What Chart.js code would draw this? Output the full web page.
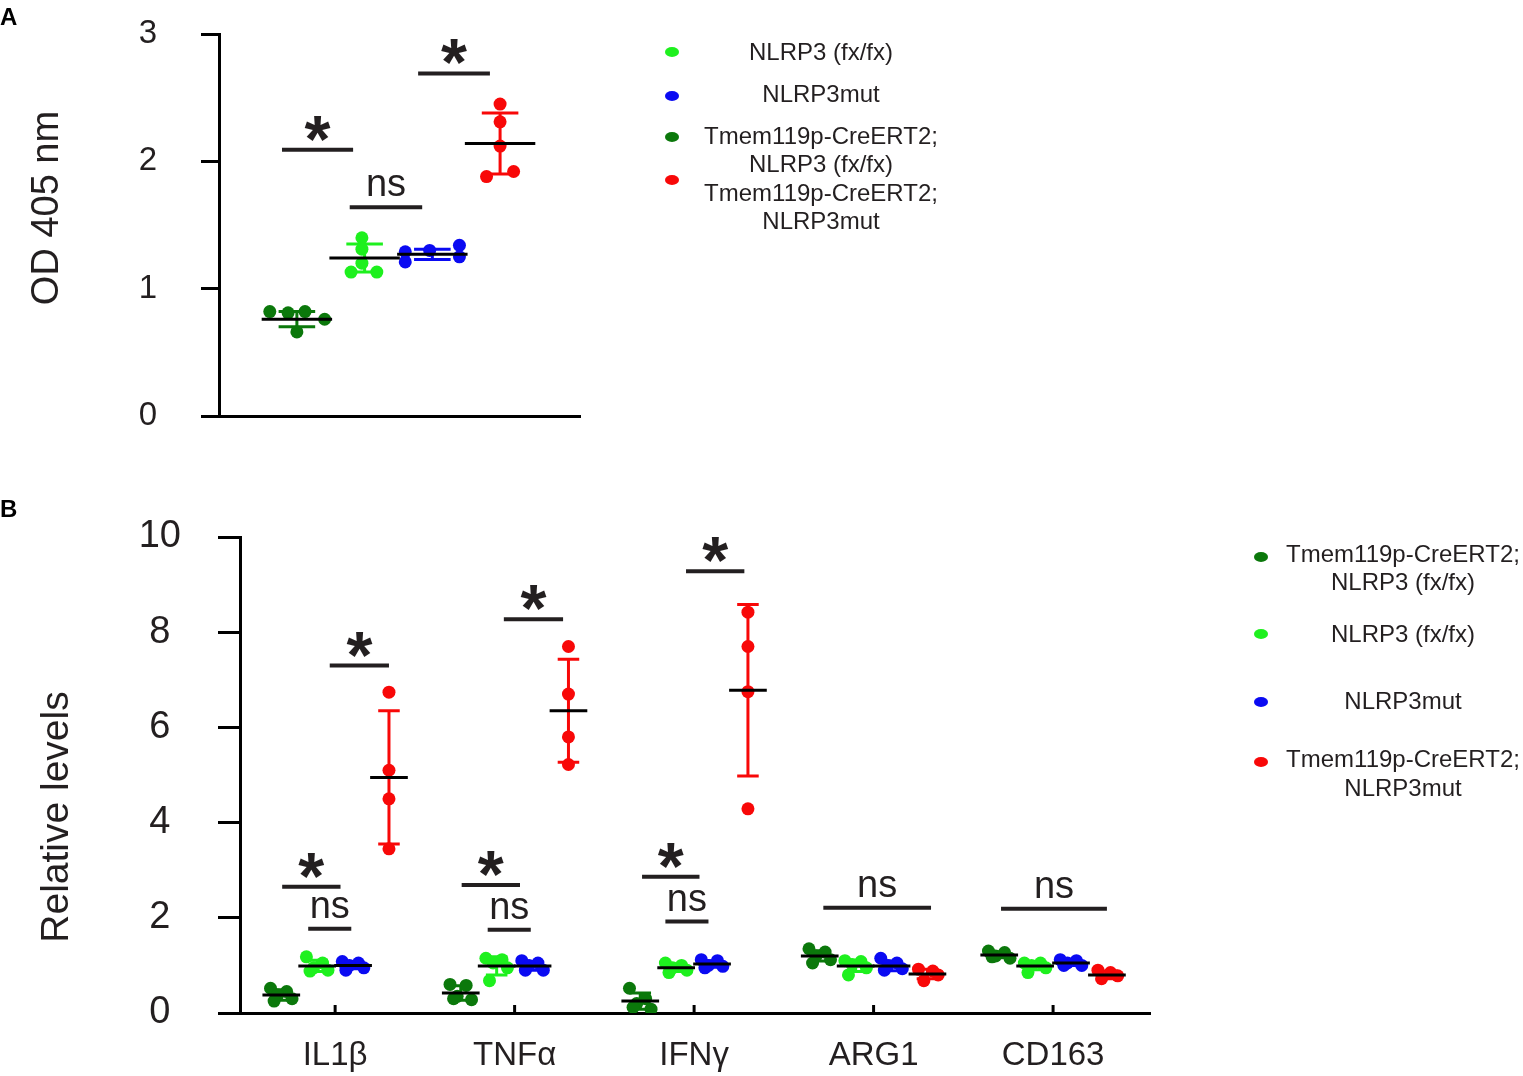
<!DOCTYPE html>
<html><head><meta charset="utf-8">
<script src="https://cdn.jsdelivr.net/npm/chart.js@4.4.0/dist/chart.umd.min.js"></script>
<style>
html,body{margin:0;padding:0;background:#fff;}
#wrap{position:relative;width:1523px;height:1076px;overflow:hidden;}
canvas{position:absolute;left:0;}
#ca{top:0;width:1523px;height:480px;}
#cb{top:480px;width:1523px;height:596px;}
</style></head><body>
<div id="wrap"><canvas id="ca" width="1523" height="480"></canvas><canvas id="cb" width="1523" height="596"></canvas></div>
<script>
// ================= DATA =================
// Panel A (OD 405 nm), group order on x: DG, LG, BL, RD
const a_dg = [0.82, 0.81, 0.82, 0.76, 0.66];
const a_lg = [1.40, 1.31, 1.20, 1.13, 1.13];
const a_bl = [1.29, 1.21, 1.30, 1.34, 1.25];
const a_rd = [2.45, 2.31, 2.12, 1.88, 1.92];
const a_mean = [0.76, 1.24, 1.27, 2.14];
const a_err = [0.06, 0.11, 0.04, 0.24];
const a_yTicks = [0, 1, 2, 3];
const a_sigText = ['*', 'ns', '*'];
const a_sigY = [2.09, 1.64, 2.69];

// Panel B (Relative levels)
const categoriesB = ['IL1β', 'TNFα', 'IFNγ', 'ARG1', 'CD163'];
const b_dg = [[0.52,0.45,0.38,0.30,0.25],[0.60,0.58,0.35,0.28,0.30],[0.52,0.30,0.20,0.08,0.12],[1.35,1.28,1.20,1.12,1.05],[1.30,1.27,1.20,1.15,1.18]];
const b_lg = [[1.18,1.05,0.95,0.90,0.88],[1.15,1.12,1.05,0.95,0.68],[1.05,1.00,0.95,0.90,0.85],[1.10,1.08,1.02,0.95,0.80],[1.05,1.05,1.00,0.95,0.85]];
const b_bl = [[1.08,1.05,1.00,0.95,0.90],[1.10,1.05,1.00,0.90,0.90],[1.12,1.10,1.00,0.98,0.95],[1.15,1.05,1.00,0.93,0.90],[1.12,1.10,1.05,1.00,1.00]];
const b_rd = [[6.74,5.10,4.50,3.45],[7.70,6.70,5.80,5.22],[8.42,7.70,6.75,4.29],[0.92,0.88,0.80,0.68],[0.90,0.85,0.78,0.72]];
const b_dgMean = [0.38, 0.42, 0.25, 1.20, 1.22];
const b_lgMean = [0.99, 0.99, 0.95, 0.99, 0.99];
const b_blMean = [1.00, 0.99, 1.03, 0.99, 1.05];
const b_rdMean = [4.95, 6.35, 6.78, 0.82, 0.80];
const b_dgErr = [0.11, 0.15, 0.17, 0.11, 0.06];
const b_lgErr = [0.12, 0.19, 0.08, 0.12, 0.08];
const b_blErr = [0.07, 0.09, 0.07, 0.10, 0.05];
const b_rdErr = [1.40, 1.08, 1.80, 0.10, 0.08];
const b_yTicks = [0, 2, 4, 6, 8, 10];
const b_sigCat = [0, 0, 0, 1, 1, 1, 2, 2, 2, 3, 4];
const b_sigText = ['*', 'ns', '*', '*', 'ns', '*', '*', 'ns', '*', 'ns', 'ns'];
const b_sigY = [2.65, 1.77, 7.30, 2.69, 1.75, 8.27, 2.86, 1.92, 9.28, 2.21, 2.19];

// Legend labels
const nameLG = ['NLRP3 (fx/fx)'];
const nameBL = ['NLRP3mut'];
const nameDG = ['Tmem119p-CreERT2;', 'NLRP3 (fx/fx)'];
const nameRD = ['Tmem119p-CreERT2;', 'NLRP3mut'];
const titleA = 'OD 405 nm';
const titleB = 'Relative levels';

// ================= STYLE / LAYOUT =================
const FONT = '"Liberation Sans", Arial, Helvetica, sans-serif';
const TXT = '#231f20';
const C_DG = '#0b780b', C_LG = '#1ef01e', C_BL = '#0a0af2', C_RD = '#f80808';

const a_jit = [[-0.40,-0.13,0.12,0.41,0.0],[-0.04,-0.04,-0.04,-0.20,0.18],[-0.40,-0.40,-0.04,0.40,0.40],[0,0,0,-0.20,0.20]];
const a_sigSpan = [[-0.22,0.83],[0.78,1.85],[1.79,2.85]];
const b_gOff = [-0.30, -0.10, 0.10, 0.30];
const b_jit5 = [-0.06, 0.03, -0.02, 0.06, -0.04];
const b_jitRed = [[0,0,0,0],[0,0,0,0],[0,0,0,0],[-0.05,0.03,0.06,-0.02],[-0.05,0.02,0.06,-0.03]];
const b_sigSpan = [[-0.295,0.03],[-0.15,0.09],[-0.03,0.30],[-0.295,0.03],[-0.15,0.09],[-0.06,0.27],[-0.29,0.03],[-0.16,0.08],[-0.045,0.28],[-0.28,0.32],[-0.29,0.30]];

// ================= HELPERS =================
function drawSig(ctx, X, Y, list) {
  list.forEach(s => {
    const x1 = X(s.x1), x2 = X(s.x2), y = Y(s.y);
    ctx.strokeStyle = TXT; ctx.lineWidth = 4;
    ctx.beginPath(); ctx.moveTo(x1, y); ctx.lineTo(x2, y); ctx.stroke();
    const cx = (x1 + x2) / 2;
    ctx.fillStyle = TXT; ctx.textAlign = 'center'; ctx.textBaseline = 'alphabetic';
    if (s.text === '*') {
      ctx.font = 'bold 100px ' + FONT;
      let m = ctx.measureText('*');
      const w = m.actualBoundingBoxLeft + m.actualBoundingBoxRight;
      const size = 100 * 26 / w;
      ctx.font = 'bold ' + size.toFixed(1) + 'px ' + FONT;
      m = ctx.measureText('*');
      ctx.fillText('*', cx, y - 9 - m.actualBoundingBoxDescent);
    } else {
      ctx.font = '38px ' + FONT;
      ctx.fillText(s.text, cx, y - 11);
    }
  });
}
function drawBars(ctx, X, Y, bars, capHalf) {
  bars.forEach(b => {
    ctx.strokeStyle = b.color; ctx.lineWidth = 3;
    ctx.beginPath();
    ctx.moveTo(X(b.x), Y(b.mean - b.err)); ctx.lineTo(X(b.x), Y(b.mean + b.err));
    [b.mean - b.err, b.mean + b.err].forEach(v => { ctx.moveTo(X(b.x - capHalf), Y(v)); ctx.lineTo(X(b.x + capHalf), Y(v)); });
    ctx.stroke();
  });
}
function drawMeans(ctx, X, Y, bars, half) {
  ctx.strokeStyle = '#000'; ctx.lineWidth = 3;
  bars.forEach(b => { ctx.beginPath(); ctx.moveTo(X(b.x - half), Y(b.mean)); ctx.lineTo(X(b.x + half), Y(b.mean)); ctx.stroke(); });
}
function drawLegend(ctx, items, mx, tx) {
  items.forEach(it => {
    ctx.fillStyle = it.color;
    ctx.beginPath(); ctx.ellipse(mx, it.my, 7, 5, 0, 0, Math.PI * 2); ctx.fill();
    ctx.fillStyle = TXT; ctx.font = '24px ' + FONT; ctx.textAlign = 'center'; ctx.textBaseline = 'middle';
    it.lines.forEach((t, i) => ctx.fillText(t, tx, it.ty[i]));
  });
}
function drawVTitle(ctx, text, cx, cy, size) {
  ctx.save(); ctx.translate(cx, cy); ctx.rotate(-Math.PI / 2);
  ctx.fillStyle = TXT; ctx.font = size + 'px ' + FONT; ctx.textAlign = 'center'; ctx.textBaseline = 'middle';
  ctx.fillText(text, 0, 0); ctx.restore();
}
function yAxisOpts(min, max, ticks, tickLen, pad, fontSize, width, cross) {
  return {
    type: 'linear', min: min, max: max,
    afterBuildTicks: s => { s.ticks = ticks.map(v => ({ value: v })); },
    afterFit: s => { s.width = width; s.paddingTop = 0; s.paddingBottom = 0; },
    grid: { display: true, drawOnChartArea: false, drawTicks: true, tickLength: tickLen, color: '#000', lineWidth: 3 },
    border: { display: true, color: '#000', width: 3 },
    ticks: { color: TXT, font: { family: FONT, size: fontSize }, padding: pad, crossAlign: cross, callback: v => String(v) }
  };
}

// ================= PANEL A =================
const aBars = a_mean.map((m, i) => ({ x: i, mean: m, err: a_err[i], color: [C_DG, C_LG, C_BL, C_RD][i] }));
const aSig = a_sigText.map((t, i) => ({ text: t, y: a_sigY[i], x1: a_sigSpan[i][0], x2: a_sigSpan[i][1] }));
const aSets = [a_dg, a_lg, a_bl, a_rd].map((vals, g) => ({
  data: vals.map((v, k) => ({ x: g + a_jit[g][k], y: v })),
  backgroundColor: [C_DG, C_LG, C_BL, C_RD][g], borderWidth: 0, pointRadius: 6.5, pointHoverRadius: 6.5
}));
const decoA = {
  id: 'decoA',
  beforeDatasetsDraw(chart) {
    const ctx = chart.ctx, X = v => chart.scales.x.getPixelForValue(v), Y = v => chart.scales.y.getPixelForValue(v);
    ctx.save(); drawBars(ctx, X, Y, aBars, 0.27); ctx.restore();
  },
  afterDatasetsDraw(chart) {
    const ctx = chart.ctx, X = v => chart.scales.x.getPixelForValue(v), Y = v => chart.scales.y.getPixelForValue(v);
    ctx.save(); drawMeans(ctx, X, Y, aBars, 0.52); drawSig(ctx, X, Y, aSig); ctx.restore();
  },
  afterDraw(chart) {
    const ctx = chart.ctx; ctx.save();
    drawLegend(ctx, [
      { color: C_LG, my: 52, lines: nameLG, ty: [53] },
      { color: C_BL, my: 96, lines: nameBL, ty: [95] },
      { color: C_DG, my: 137, lines: nameDG, ty: [137, 165] },
      { color: C_RD, my: 180, lines: nameRD, ty: [194, 222] }
    ], 672, 821);
    drawVTitle(ctx, titleA, 48, 208, 38);
    ctx.fillStyle = '#000'; ctx.font = 'bold 24px ' + FONT; ctx.textAlign = 'left'; ctx.textBaseline = 'alphabetic';
    ctx.fillText('A', 0, 25);
    ctx.restore();
  }
};
new Chart(document.getElementById('ca'), {
  type: 'scatter',
  data: { datasets: aSets },
  options: {
    responsive: false, animation: false, devicePixelRatio: 1,
    layout: { padding: { top: 34, right: 943, bottom: 0, left: 0 } },
    plugins: { legend: { display: false }, tooltip: { enabled: false } },
    scales: {
      x: { type: 'linear', min: -1.15, max: 4.18, afterFit: s => { s.height = 64; },
        grid: { display: false }, border: { display: true, color: '#000', width: 3 }, ticks: { display: false } },
      y: yAxisOpts(0, 3, a_yTicks, 18, 44, 33, 219, 'near')
    }
  },
  plugins: [decoA]
});

// ================= PANEL B =================
const bGroups = [
  { vals: b_dg, mean: b_dgMean, err: b_dgErr, color: C_DG },
  { vals: b_lg, mean: b_lgMean, err: b_lgErr, color: C_LG },
  { vals: b_bl, mean: b_blMean, err: b_blErr, color: C_BL },
  { vals: b_rd, mean: b_rdMean, err: b_rdErr, color: C_RD }
];
const bBars = [];
bGroups.forEach((g, gi) => g.mean.forEach((m, c) => bBars.push({ x: c + b_gOff[gi], mean: m, err: g.err[c], color: g.color })));
const bSets = bGroups.map((g, gi) => ({
  data: g.vals.flatMap((arr, c) => arr.map((v, k) => ({ x: c + b_gOff[gi] + (gi === 3 ? b_jitRed[c][k] : b_jit5[k]), y: v }))),
  backgroundColor: g.color, borderWidth: 0, pointRadius: 6.5, pointHoverRadius: 6.5
}));
const bSig = b_sigText.map((t, i) => ({ text: t, y: b_sigY[i], x1: b_sigCat[i] + b_sigSpan[i][0], x2: b_sigCat[i] + b_sigSpan[i][1] }));
const decoB = {
  id: 'decoB',
  beforeDatasetsDraw(chart) {
    const ctx = chart.ctx, X = v => chart.scales.x.getPixelForValue(v), Y = v => chart.scales.y.getPixelForValue(v);
    ctx.save(); drawBars(ctx, X, Y, bBars, 0.06); ctx.restore();
  },
  afterDatasetsDraw(chart) {
    const ctx = chart.ctx, X = v => chart.scales.x.getPixelForValue(v), Y = v => chart.scales.y.getPixelForValue(v);
    ctx.save(); drawMeans(ctx, X, Y, bBars, 0.105); drawSig(ctx, X, Y, bSig);
    const yb = chart.chartArea.bottom;
    ctx.strokeStyle = '#000'; ctx.lineWidth = 3;
    categoriesB.forEach((c, i) => { ctx.beginPath(); ctx.moveTo(X(i), yb); ctx.lineTo(X(i), yb - 8); ctx.stroke(); });
    ctx.restore();
  },
  afterDraw(chart) {
    const ctx = chart.ctx; ctx.save();
    drawLegend(ctx, [
      { color: C_DG, my: 77, lines: nameDG, ty: [75, 103] },
      { color: C_LG, my: 154, lines: nameLG, ty: [155] },
      { color: C_BL, my: 222, lines: nameBL, ty: [222] },
      { color: C_RD, my: 282, lines: nameRD, ty: [280, 309] }
    ], 1261, 1403);
    drawVTitle(ctx, titleB, 57, 337, 39);
    ctx.fillStyle = '#000'; ctx.font = 'bold 24px ' + FONT; ctx.textAlign = 'left'; ctx.textBaseline = 'alphabetic';
    ctx.fillText('B', 0, 37);
    ctx.restore();
  }
};
new Chart(document.getElementById('cb'), {
  type: 'scatter',
  data: { datasets: bSets },
  options: {
    responsive: false, animation: false, devicePixelRatio: 1,
    layout: { padding: { top: 57, right: 373, bottom: 0, left: 0 } },
    plugins: { legend: { display: false }, tooltip: { enabled: false } },
    scales: {
      x: { type: 'linear', min: -0.53, max: 4.54, afterFit: s => { s.height = 63; },
        afterBuildTicks: s => { s.ticks = categoriesB.map((c, i) => ({ value: i })); },
        grid: { display: false }, border: { display: true, color: '#000', width: 3 },
        ticks: { color: TXT, font: { family: FONT, size: 33 }, padding: 15, autoSkip: false, maxRotation: 0, callback: v => categoriesB[v] } },
      y: yAxisOpts(0, 10, b_yTicks, 22, 37, 38, 240, 'center')
    }
  },
  plugins: [decoB]
});
</script>
</body></html>
